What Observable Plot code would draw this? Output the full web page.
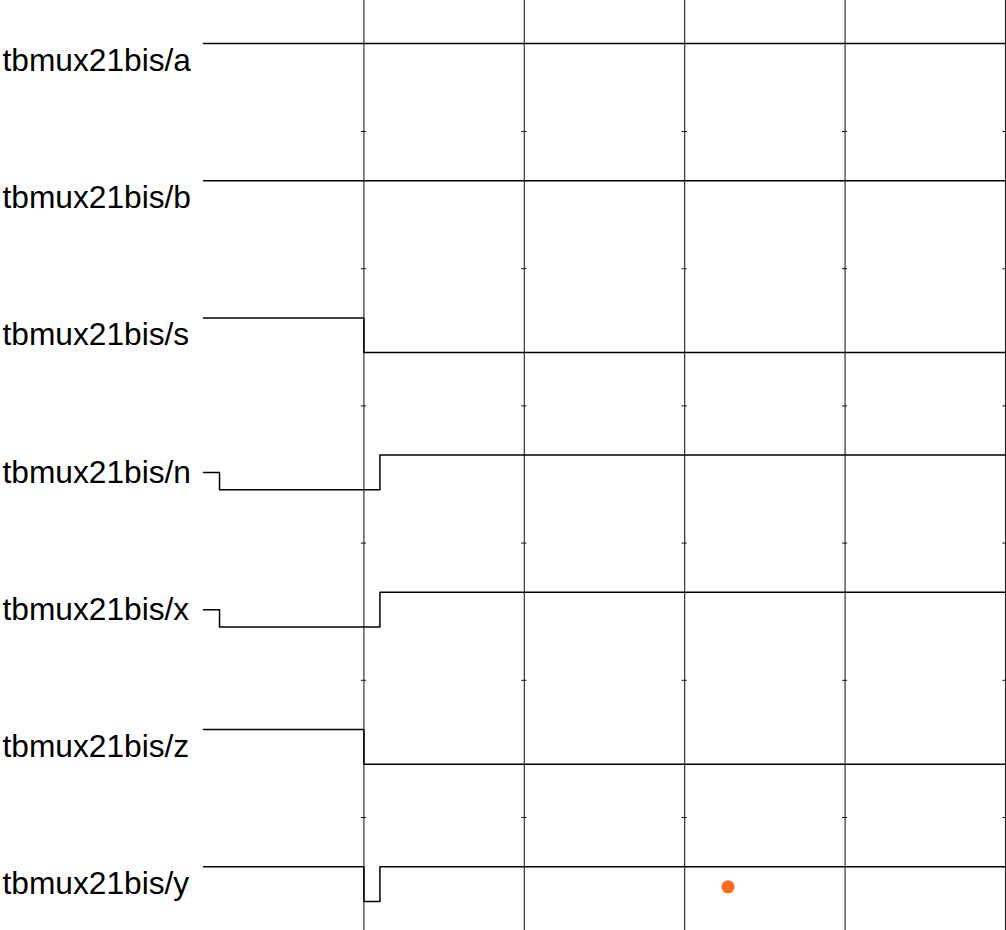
<!DOCTYPE html>
<html>
<head>
<meta charset="utf-8">
<script src="https://cdn.jsdelivr.net/npm/d3@7"></script>
<script src="https://cdn.jsdelivr.net/npm/@observablehq/plot@0.6"></script>
<style>
  html, body { margin: 0; padding: 0; background: #fff; }
  #chart svg { display: block; }
</style>
</head>
<body>
<div id="chart"></div>
<script>
// Signal names (rows, top to bottom)
const signals = ["tbmux21bis/a", "tbmux21bis/b", "tbmux21bis/s", "tbmux21bis/n", "tbmux21bis/x", "tbmux21bis/z", "tbmux21bis/y"];
// Step points per signal: [time, level]; 1 = high, 0 = low, 0.5 = undefined (U)
const waveA = [[0, 1], [50, 1]];
const waveB = [[0, 1], [50, 1]];
const waveS = [[0, 1], [10, 0], [50, 0]];
const waveN = [[0, 0.5], [1, 0], [11, 1], [50, 1]];
const waveX = [[0, 0.5], [1, 0], [11, 1], [50, 1]];
const waveZ = [[0, 1], [10, 0], [50, 0]];
const waveY = [[0, 1], [10, 0], [11, 1], [50, 1]];
const waves = [waveA, waveB, waveS, waveN, waveX, waveZ, waveY];
// Time grid
const gridTimes = [10, 20, 30, 40, 50];
const rowBoundaries = [1, 2, 3, 4, 5, 6];
// Cursor marker
const marker = [{t: 32.7, row: 6, level: 0.42}];

const levelToY = (row, level) => row + 0.6115 - level * 0.2529;

const lineData = waves.flatMap((w, i) => w.map(([t, v]) => ({signal: signals[i], t, y: levelToY(i, v)})));
const labelData = signals.map((s, i) => ({s, y: levelToY(i, 0.5)}));
const tickData = gridTimes.flatMap(t => rowBoundaries.map(b => ({t, b})));

const chart = Plot.plot({
  width: 1006,
  height: 930,
  margin: 0,
  x: {domain: [0, 50], range: [203, 1005], axis: null},
  y: {domain: [0, 7], range: [-6.2, 954.2], axis: null},
  style: {background: "#fff"},
  marks: [
    Plot.ruleX(gridTimes, {x: d => d, stroke: "#222", strokeWidth: 1.1}),
    Plot.ruleY(tickData, {y: "b", x1: d => d.t - 0.16, x2: d => d.t + 0.16, stroke: "#111", strokeWidth: 1}),
    Plot.line(lineData, {x: "t", y: "y", z: "signal", curve: "step-after", stroke: "#000", strokeWidth: 1.5}),
    Plot.text(labelData, {y: "y", text: "s", frameAnchor: "left", textAnchor: "start", dx: 2, fontSize: 31.7, fontFamily: "Liberation Sans, Arial, sans-serif", fill: "#000"}),
    Plot.dot(marker, {x: "t", y: d => levelToY(d.row, d.level), r: 6.5, fill: "#ff6a21", stroke: "none"})
  ]
});
document.getElementById("chart").appendChild(chart);
</script>
</body>
</html>
